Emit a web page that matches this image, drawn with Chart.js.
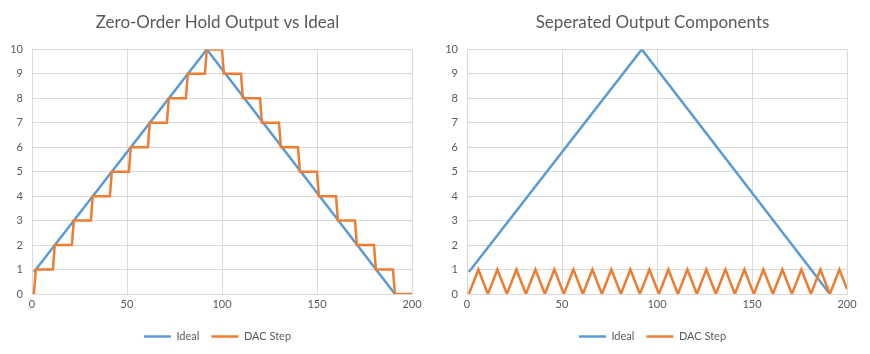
<!DOCTYPE html>
<html>
<head>
<meta charset="utf-8">
<script src="https://cdn.jsdelivr.net/npm/chart.js@4.4.1/dist/chart.umd.min.js"></script>
<style>
  html, body { margin: 0; padding: 0; background: #ffffff; }
  #wrap { width: 870px; height: 354px; display: flex; }
  .box { width: 435px; height: 354px; position: relative; }
</style>
</head>
<body>
<div id="wrap">
  <div class="box"><canvas id="c1"></canvas></div>
  <div class="box"><canvas id="c2"></canvas></div>
</div>
<script>
// ---- Data ----
const titles = ["Zero-Order Hold Output vs Ideal", "Seperated Output Components"];
const seriesNames = ["Ideal", "DAC Step"];

// Ideal (triangle) – same in both panels
const idealX = [1, 92, 191];
const idealY = [0.9, 10, 0];

// Left panel: zero-order hold staircase (corner points)
const stepX = [1, 2, 11, 12, 21, 22, 31, 32, 41, 42, 51, 52, 61, 62, 71, 72, 81, 82, 91, 92,
               100, 101, 110, 111, 120, 121, 130, 131, 140, 141, 150, 151, 160, 161, 170, 171, 180, 181, 190, 191, 200];
const stepY = [0, 1, 1, 2, 2, 3, 3, 4, 4, 5, 5, 6, 6, 7, 7, 8, 8, 9, 9, 10,
               10, 9, 9, 8, 8, 7, 7, 6, 6, 5, 5, 4, 4, 3, 3, 2, 2, 1, 1, 0, 0];

// Right panel: separated step component (triangle wave)
const compX = [1, 6, 11, 16, 21, 26, 31, 36, 41, 46, 51, 56, 61, 66, 71, 76, 81, 86, 91, 96,
               101, 106, 111, 116, 121, 126, 131, 136, 141, 146, 151, 156, 161, 166, 171, 176, 181, 186, 191, 196, 200];
const compY = [0, 1, 0, 1, 0, 1, 0, 1, 0, 1, 0, 1, 0, 1, 0, 1, 0, 1, 0, 1,
               0, 1, 0, 1, 0, 1, 0, 1, 0, 1, 0, 1, 0, 1, 0, 1, 0, 1, 0, 1, 0.2];

// Axis ranges
const xMin = 0, xMax = 200, xStep = 50;
const yMin = 0, yMax = 10, yStep = 1;

// ---- Rendering ----
const BLUE = "#5B9BD5";
const ORANGE = "#ED7D31";
const TEXT = "#595959";
const GRID = "#D9D9D9";
const FONT = "Lato, 'Open Sans', sans-serif";

function pts(xs, ys) { return xs.map((x, i) => ({ x: x, y: ys[i] })); }

function makeChart(id, title, orangeX, orangeY) {
  return new Chart(document.getElementById(id), {
    type: "line",
    data: {
      datasets: [
        { label: seriesNames[0], data: pts(idealX, idealY), borderColor: BLUE, backgroundColor: BLUE,
          borderWidth: 2.5, pointRadius: 0, tension: 0, order: 1 },
        { label: seriesNames[1], data: pts(orangeX, orangeY), borderColor: ORANGE, backgroundColor: ORANGE,
          borderWidth: 2.5, pointRadius: 0, tension: 0, order: 0 }
      ]
    },
    options: {
      responsive: true,
      maintainAspectRatio: false,
      animation: false,
      devicePixelRatio: 1,
      layout: { padding: { left: 0, right: 0, top: 0, bottom: 2 } },
      plugins: {
        title: {
          display: true, text: title, color: TEXT,
          font: { family: FONT, size: 17, weight: "normal" },
          padding: { top: 12, bottom: 17 }
        },
        legend: {
          position: "bottom",
          labels: {
            color: TEXT, font: { family: FONT, size: 11 },
            usePointStyle: true, pointStyle: "line", pointStyleWidth: 27, boxWidth: 27, boxHeight: 11,
            padding: 12,
            sort: (a, b) => a.datasetIndex - b.datasetIndex
          }
        },
        tooltip: { enabled: false }
      },
      scales: {
        x: {
          type: "linear", min: xMin, max: xMax,
          ticks: { stepSize: xStep, color: TEXT, font: { family: FONT, size: 11 }, padding: 4, maxRotation: 0 },
          grid: { color: GRID, lineWidth: 1, drawTicks: false },
          border: { color: GRID },
          afterFit: (s) => { s.height = 25; s.paddingRight = 23; }
        },
        y: {
          type: "linear", min: yMin, max: yMax,
          ticks: { stepSize: yStep, color: TEXT, font: { family: FONT, size: 11 }, padding: 9 },
          grid: { color: GRID, lineWidth: 1, drawTicks: false },
          border: { color: GRID },
          afterFit: (s) => { s.width = 32; }
        }
      }
    }
  });
}

makeChart("c1", titles[0], stepX, stepY);
makeChart("c2", titles[1], compX, compY);
</script>
</body>
</html>
